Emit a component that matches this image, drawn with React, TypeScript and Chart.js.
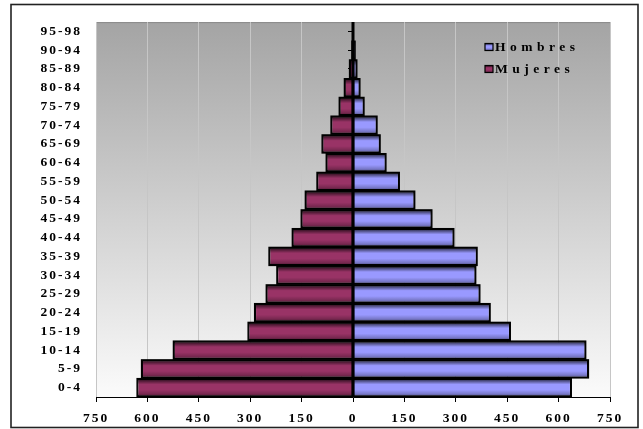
import { useEffect, useRef } from "react";
import { Chart, registerables } from "chart.js";

Chart.register(...registerables);

// ---- data ----
const ageGroups = [
  "0-4", "5-9", "10-14", "15-19", "20-24", "25-29", "30-34", "35-39", "40-44", "45-49",
  "50-54", "55-59", "60-64", "65-69", "70-74", "75-79", "80-84", "85-89", "90-94", "95-98",
];
const hombres = [637, 687, 679, 459, 400, 370, 358, 362, 294, 230, 180, 135, 96, 79, 70, 32, 20, 11, 6, 2];
const mujeres = [630, 617, 524, 306, 287, 253, 222, 245, 177, 151, 139, 105, 78, 90, 64, 40, 25, 10, 3, 2];
const seriesNames = ["Hombres", "Mujeres"];
const seriesColors = ["#9999ff", "#993366"];
const axisMin = -750;
const axisMax = 750;
const axisStep = 150;

const FONT = "'Liberation Serif', 'Times New Roman', serif";

function shade(ctx: CanvasRenderingContext2D, l: number, t: number, w: number, h: number) {
  const g = ctx.createLinearGradient(0, t, 0, t + h);
  g.addColorStop(0, "rgba(0,0,0,0.8)");
  g.addColorStop(0.12, "rgba(0,0,0,0.5)");
  g.addColorStop(0.32, "rgba(0,0,0,0.0)");
  g.addColorStop(0.62, "rgba(0,0,0,0.0)");
  g.addColorStop(0.85, "rgba(0,0,0,0.22)");
  g.addColorStop(1, "rgba(0,0,0,0.55)");
  ctx.fillStyle = g;
  ctx.fillRect(l, t, w, h);
}

const decorPlugin = {
  id: "decor",
  beforeDraw(chart: any) {
    const { ctx, chartArea: a } = chart;
    ctx.save();
    // outer frame
    ctx.strokeStyle = "#222";
    ctx.lineWidth = 1.6;
    ctx.strokeRect(11, 4.5, 627, 423);
    // plot background gradient
    const g = ctx.createLinearGradient(0, a.top, 0, a.bottom);
    g.addColorStop(0, "#a4a4a4");
    g.addColorStop(1, "#fbfbfb");
    ctx.fillStyle = g;
    ctx.fillRect(a.left, a.top, a.right - a.left, a.bottom - a.top);
    ctx.strokeStyle = "#8a8a8a";
    ctx.lineWidth = 1;
    ctx.beginPath();
    ctx.moveTo(a.left, a.top + 0.5);
    ctx.lineTo(a.right + 0.5, a.top + 0.5);
    ctx.lineTo(a.right + 0.5, a.bottom);
    ctx.stroke();
    ctx.restore();
    ctx.letterSpacing = "2px";
  },
  afterDatasetsDraw(chart: any) {
    const { ctx, chartArea: a } = chart;
    ctx.save();
    chart.data.datasets.forEach((_ds: any, i: number) => {
      const meta = chart.getDatasetMeta(i);
      meta.data.forEach((el: any) => {
        const { x, y, base, height } = el.getProps(["x", "y", "base", "height"], true);
        const l = Math.min(x, base);
        const r = Math.max(x, base);
        const t = y - height / 2;
        if (r - l < 0.5) return;
        shade(ctx, l, t, r - l, height);
        ctx.strokeStyle = "#000";
        ctx.lineWidth = 1.4;
        ctx.strokeRect(l, t, r - l, height);
      });
    });
    // value axis line at zero
    const x0 = chart.scales.x.getPixelForValue(0);
    ctx.strokeStyle = "#000";
    ctx.lineWidth = 3;
    ctx.beginPath();
    ctx.moveTo(x0, a.top);
    ctx.lineTo(x0, a.bottom);
    ctx.stroke();
    ctx.restore();
  },
  afterDraw(chart: any) {
    const { ctx } = chart;
    ctx.save();
    ctx.letterSpacing = "4.5px";
    ctx.font = `bold 13.5px ${FONT}`;
    ctx.textBaseline = "middle";
    ctx.textAlign = "left";
    const rows = [47, 69];
    seriesNames.forEach((name, i) => {
      const cy = rows[i];
      const bx = 485, by = cy - 3.5, bw = 8, bh = 7;
      ctx.fillStyle = seriesColors[i];
      ctx.fillRect(bx, by, bw, bh);
      shade(ctx, bx, by, bw, bh);
      ctx.strokeStyle = "#000";
      ctx.lineWidth = 1.2;
      ctx.strokeRect(bx, by, bw, bh);
      ctx.fillStyle = "#000";
      ctx.fillText(name, 495, cy + 0.5);
    });
    ctx.restore();
    ctx.letterSpacing = "0px";
  },
};

export default function App() {
  const ref = useRef<HTMLCanvasElement | null>(null);

  useEffect(() => {
    if (!ref.current) return;
    const tickFont = { family: FONT, size: 13.5, weight: "bold" as const };
    const chart = new Chart(ref.current, {
      type: "bar",
      data: {
        labels: ageGroups,
        datasets: [
          {
            label: seriesNames[0],
            data: hombres,
            backgroundColor: seriesColors[0],
            borderColor: "#000",
            borderWidth: 1.4,
            barPercentage: 0.96,
            categoryPercentage: 1,
            yAxisID: "y",
          },
          {
            label: seriesNames[1],
            data: mujeres.map((v) => -v),
            backgroundColor: seriesColors[1],
            borderColor: "#000",
            borderWidth: 1.4,
            barPercentage: 0.96,
            categoryPercentage: 1,
            yAxisID: "y",
          },
        ],
      },
      options: {
        indexAxis: "y",
        responsive: false,
        animation: false,
        layout: { padding: { left: 0, right: 33, top: 22, bottom: 0 } },
        plugins: {
          legend: { display: false },
          tooltip: { enabled: false },
        },
        scales: {
          x: {
            type: "linear",
            min: axisMin,
            max: axisMax,
            stacked: true,
            ticks: {
              stepSize: axisStep,
              callback: (v: any) => String(Math.abs(Number(v))),
              font: tickFont,
              color: "#000",
              padding: 8,
              maxRotation: 0,
            },
            grid: { color: "#c6c6c6", lineWidth: 1, tickColor: "#000", tickLength: 5 },
            border: { display: true, color: "#000", width: 1 },
            afterFit: (s: any) => {
              s.height = 32;
            },
          },
          y: {
            type: "category",
            reverse: true,
            stacked: true,
            offset: true,
            grid: { display: false, drawTicks: false },
            border: { display: false },
            ticks: { font: tickFont, color: "#000", padding: 14, autoSkip: false },
            afterFit: (s: any) => {
              s.width = 96;
            },
          },
          y2: {
            type: "category",
            labels: ageGroups,
            reverse: true,
            offset: true,
            position: { x: 0 },
            z: 1,
            grid: {
              display: true,
              drawOnChartArea: false,
              offset: false,
              drawTicks: true,
              tickLength: 5,
              tickColor: "#000",
              lineWidth: 1,
            },
            border: { display: false },
            ticks: { display: false },
          },
        },
      } as any,
      plugins: [decorPlugin],
    });
    return () => chart.destroy();
  }, []);

  return (
    <div style={{ position: "absolute", left: 0, top: 0, width: 643, height: 429, background: "#fff" }}>
      <canvas ref={ref} width={643} height={429} style={{ display: "block" }} />
    </div>
  );
}
